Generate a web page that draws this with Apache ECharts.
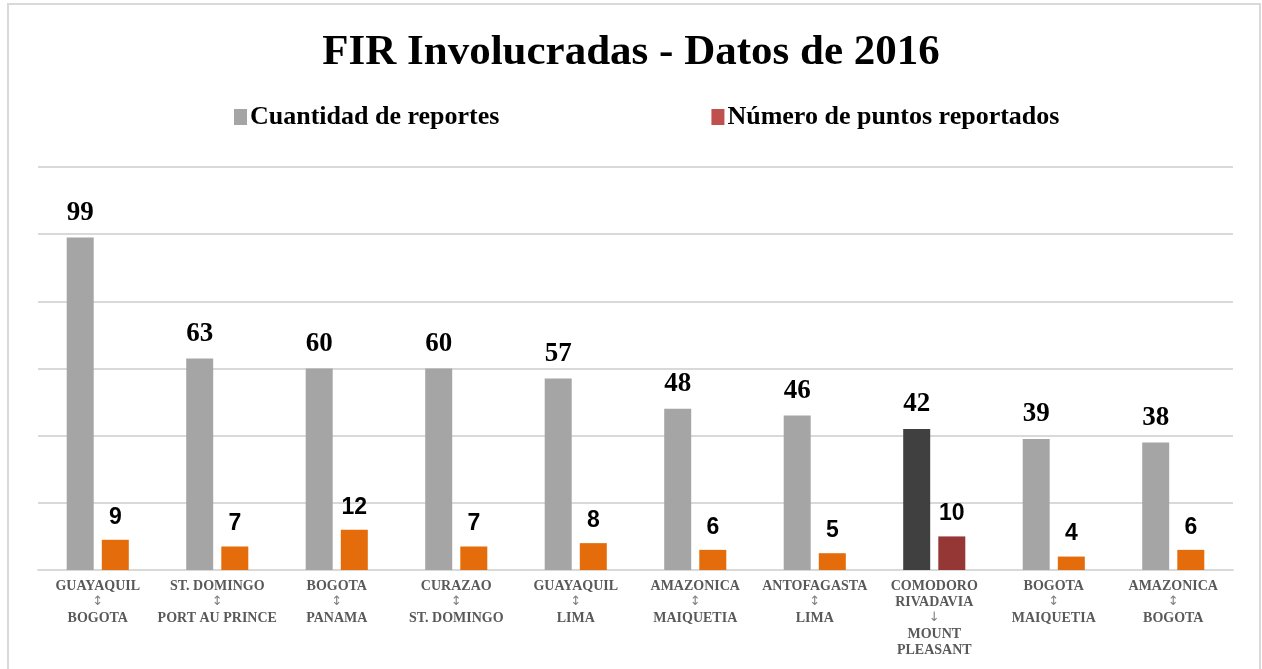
<!DOCTYPE html>
<html>
<head>
<meta charset="utf-8">
<title>FIR Involucradas - Datos de 2016</title>
<script src="https://cdn.jsdelivr.net/npm/echarts@6/dist/echarts.min.js"></script>
<style>
    html, body { margin: 0; padding: 0; background: #fff; }
    #chart_fir { width: 1262px; height: 669px; }
</style>
</head>
<body>
<div id="chart_fir"></div>
<script>
// Data
var categories = [
    'GUAYAQUIL\n↕\nBOGOTA',
    'ST. DOMINGO\n↕\nPORT AU PRINCE',
    'BOGOTA\n↕\nPANAMA',
    'CURAZAO\n↕\nST. DOMINGO',
    'GUAYAQUIL\n↕\nLIMA',
    'AMAZONICA\n↕\nMAIQUETIA',
    'ANTOFAGASTA\n↕\nLIMA',
    'COMODORO\nRIVADAVIA\n↓\nMOUNT\nPLEASANT',
    'BOGOTA\n↕\nMAIQUETIA',
    'AMAZONICA\n↕\nBOGOTA'
];
var reportes = [99, 63, 60, 60, 57, 48, 46, 42, 39, 38];
var puntos = [9, 7, 12, 7, 8, 6, 5, 10, 4, 6];
var highlight = 7;   // COMODORO -> MOUNT PLEASANT

var serif = 'Liberation Serif, Times New Roman, serif';

function create_fir_chart() {
    var myChart = echarts.init(document.getElementById("chart_fir"));

    var reportesData = [];
    var puntosData = [];
    for (var i = 0; i < reportes.length; i++) {
        reportesData.push({
            value: reportes[i],
            itemStyle: {color: i == highlight ? '#404040' : '#A5A5A5'}
        });
        puntosData.push({
            value: puntos[i],
            itemStyle: {color: i == highlight ? '#953735' : '#E46C0A'}
        });
    }

    var option = {
        backgroundColor: '#fff',
        title: {
            text: 'FIR Involucradas - Datos de 2016',
            left: 'center',
            top: 26,
            textStyle: {
                fontFamily: serif,
                fontWeight: 'bold',
                fontSize: 43,
                color: '#000'
            }
        },
        legend: {
            top: 99,
            left: 229,
            itemWidth: 13,
            itemHeight: 16,
            itemGap: 212,
            icon: 'rect',
            textStyle: {
                fontFamily: serif,
                fontWeight: 'bold',
                fontSize: 26,
                color: '#000',
                padding: [0, 0, 0, -2]
            },
            data: ['Cuantidad de reportes', 'Número de puntos reportados']
        },
        graphic: [{
            type: 'rect',
            shape: {x: 8, y: 4, width: 1252, height: 700},
            style: {fill: 'none', stroke: '#D9D9D9', lineWidth: 2},
            silent: true
        }],
        grid: {left: 38, right: 29, top: 167, bottom: 99},
        xAxis: {
            type: 'category',
            data: categories,
            axisLine: {lineStyle: {color: '#D9D9D9', width: 2}},
            axisTick: {show: false},
            axisLabel: {
                interval: 0,
                margin: 8,
                fontFamily: serif,
                fontWeight: 'bold',
                fontSize: 14,
                lineHeight: 16,
                color: '#595959',
                // arrows drawn in a font that has the glyphs
                formatter: function (value) {
                    return value.split('\n').map(function (line) {
                        if (line == '↕' || line == '↓') return '{a|' + line + '}';
                        return line;
                    }).join('\n');
                },
                rich: {
                    a: {
                        fontFamily: 'DejaVu Sans, sans-serif',
                        fontWeight: 'normal',
                        fontSize: 13,
                        lineHeight: 16,
                        color: '#7F7F7F'
                    }
                }
            }
        },
        yAxis: {
            type: 'value',
            min: 0,
            max: 120,
            interval: 20,
            axisLabel: {show: false},
            axisLine: {show: false},
            axisTick: {show: false},
            splitLine: {lineStyle: {color: '#D9D9D9', width: 2}}
        },
        series: [
            {
                name: 'Cuantidad de reportes',
                type: 'bar',
                barWidth: 27,
                barGap: '30%',
                itemStyle: {color: '#A5A5A5'},
                label: {
                    show: true,
                    position: 'top',
                    distance: 11,
                    fontFamily: serif,
                    fontWeight: 'bold',
                    fontSize: 27,
                    color: '#000'
                },
                data: reportesData
            },
            {
                name: 'Número de puntos reportados',
                type: 'bar',
                barWidth: 27,
                itemStyle: {color: '#C0504D'},
                label: {
                    show: true,
                    position: 'top',
                    distance: 11,
                    fontFamily: 'Liberation Sans, Arial, sans-serif',
                    fontWeight: 'bold',
                    fontSize: 23,
                    color: '#000'
                },
                data: puntosData
            }
        ]
    };
    myChart.setOption(option);
}

create_fir_chart();
</script>
</body>
</html>
